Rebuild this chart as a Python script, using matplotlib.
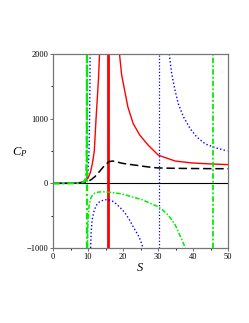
import numpy as np
import matplotlib
matplotlib.use('Agg')
import matplotlib.pyplot as plt

plt.rcParams['font.family'] = ['Liberation Serif', 'DejaVu Serif']
plt.rcParams['mathtext.fontset'] = 'custom'
plt.rcParams['mathtext.rm'] = 'Liberation Serif'
plt.rcParams['mathtext.it'] = 'Liberation Serif:italic'

### Curves (S, C_p)
red_left_s = [0, 4, 6, 7, 8, 9, 10, 10.7, 11.3, 11.8, 12.3, 12.7, 13.0, 13.3]
red_left_c = [0, 1, 4, 8, 15, 35, 80, 170, 320, 500, 1000, 1350, 1620, 2000]
red_right_s = [19.0, 19.6, 20.5, 21.4, 22.9, 24.8, 27.2, 30.1, 34.9, 39.7, 45.0, 50.0]
red_right_c = [2000, 1680, 1430, 1180, 925, 745, 590, 435, 345, 315, 300, 290]

black_s = [0, 4, 6, 8, 9, 10, 11, 12, 13, 14, 15, 16, 17, 18, 19, 20, 22, 24, 26, 28, 30, 35, 40, 45, 50]
black_c = [0, 1, 3, 10, 18, 30, 60, 105, 165, 230, 290, 335, 345, 335, 320, 308, 292, 278, 262, 248, 238, 232, 229, 227, 226]

blue_left_s = [0, 4, 6, 8, 9, 9.6, 10.0, 10.3, 10.45, 10.55, 10.6]
blue_left_c = [0, 1, 3, 10, 30, 70, 180, 500, 1000, 1500, 2000]
blue_low_s = [10.75, 10.9, 11.2, 11.8, 12.5, 13.3, 14.5, 15.6, 17.0, 18.0, 19.0, 20.5, 21.9, 23.0, 24.3, 25.0, 25.7]
blue_low_c = [-1000, -750, -560, -410, -330, -285, -258, -250, -275, -315, -365, -450, -570, -680, -800, -880, -1000]
blue_right_s = [33.2, 33.9, 34.9, 35.8, 37.3, 39.2, 41.1, 43.5, 46.4, 49.8]
blue_right_c = [2000, 1700, 1430, 1230, 1025, 845, 715, 610, 550, 500]

green_left_s = [0, 4, 6, 8, 9, 9.4, 9.6, 9.68, 9.72]
green_left_c = [0, 1, 3, 10, 30, 80, 300, 1000, 2000]
green_low_s = [9.85, 9.95, 10.3, 10.8, 11.3, 12.0, 13.0, 14.2, 15.5, 17.0, 19.0, 20.5, 22.0, 23.8, 25.3, 27.0, 28.5, 30.0, 31.5, 32.9, 34.0, 35.0, 35.8, 36.8, 37.8]
green_low_c = [-1000, -650, -350, -230, -180, -150, -135, -130, -135, -145, -158, -175, -200, -228, -250, -290, -325, -360, -420, -490, -570, -650, -750, -870, -1000]

### Vertical asymptote lines
red_asym = [15.6]
blue_asym = [30.3]
green_asym = [9.75, 45.8]

fig = plt.figure(figsize=(2.49, 3.23), dpi=100)
ax = fig.add_axes([53 / 249, 75 / 323, 175 / 249, 194 / 323])

ax.axhline(0, color='black', lw=0.8, zorder=1)

dashdot = (3, 1.2, 1, 1.2)
dots = (1, 1.6)

ax.plot(red_left_s, red_left_c, color='red', lw=1.0)
ax.plot(red_right_s, red_right_c, color='red', lw=1.0)
for s in red_asym:
    ax.plot([s, s], [-1000, 2000], color='red', lw=2.0)

ax.plot(black_s, black_c, color='black', lw=1.1, dashes=(5.5, 2.5))

ax.plot(blue_left_s, blue_left_c, color='blue', lw=1.0, dashes=dots)
ax.plot(blue_low_s, blue_low_c, color='blue', lw=1.0, dashes=dots)
ax.plot(blue_right_s, blue_right_c, color='blue', lw=1.0, dashes=dots)
for s in blue_asym:
    ax.plot([s, s], [-1000, 2000], color='blue', lw=0.9, dashes=dots)

ax.plot(green_left_s, green_left_c, color='#00ee00', lw=1.6, dashes=dashdot)
ax.plot(green_low_s, green_low_c, color='#00ee00', lw=1.1, dashes=dashdot)
for i, s in enumerate(green_asym):
    ax.plot([s, s], [-1000, 2000], color='#00ee00', lw=1.6 if i == 0 else 1.3, dashes=dashdot)

ax.set_xlim(0, 50)
ax.set_ylim(-1000, 2000)
ax.set_xticks([0, 10, 20, 30, 40, 50])
ax.set_xticks([5, 15, 25, 35, 45], minor=True)
ax.set_yticks([-1000, 0, 1000, 2000])
ax.set_yticklabels(['\u22121000', '0', '1000', '2000'])
ax.set_yticks([-500, 500, 1500], minor=True)
ax.tick_params(labelsize=6, length=2.5, width=0.6, pad=1, color='#555555')
ax.tick_params(which='minor', length=1.5, width=0.6)
for sp in ax.spines.values():
    sp.set_color('#777777')
    sp.set_linewidth(0.9)

fig.text(20 / 249, 1 - 152 / 323, r'$C_P$', fontsize=9, ha='center', va='center')
fig.text(140 / 249, 1 - 268 / 323, r'$S$', fontsize=9, ha='center', va='center')

plt.savefig('out.png', dpi=100)
